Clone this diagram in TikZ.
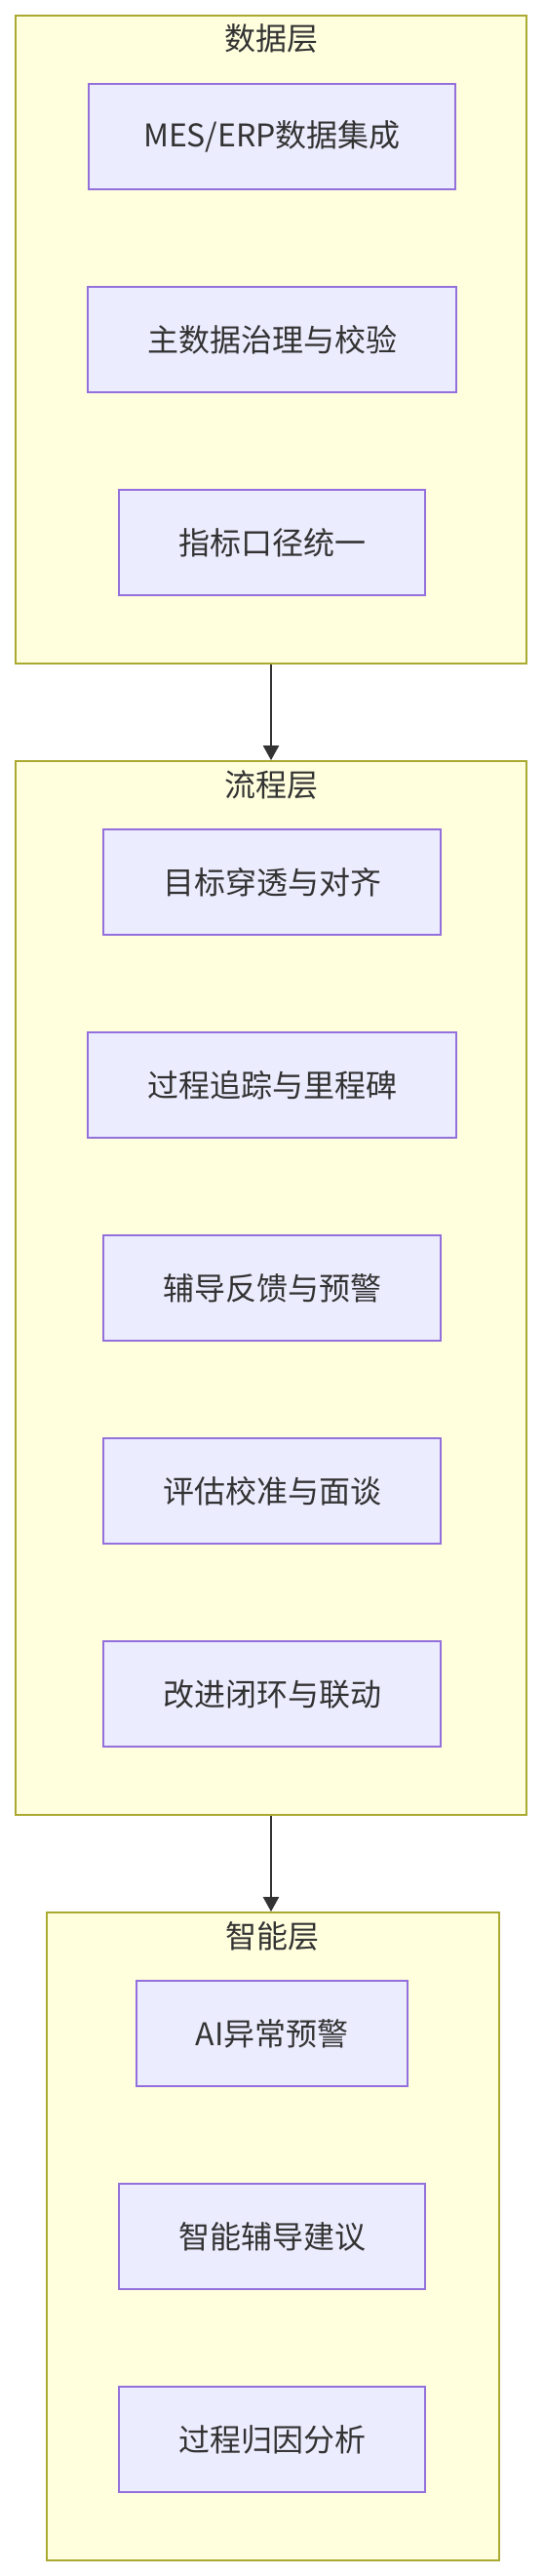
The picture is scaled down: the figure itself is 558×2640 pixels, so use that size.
\documentclass[tikz,border=0pt]{standalone}
\usepackage{fontspec}
\setmainfont{Noto Sans CJK SC}
\usetikzlibrary{arrows.meta}
\definecolor{clfill}{HTML}{FFFFDE}
\definecolor{clline}{HTML}{AAAA33}
\definecolor{ndfill}{HTML}{ECECFF}
\definecolor{ndline}{HTML}{9370DB}
\definecolor{txt}{HTML}{333333}
\tikzset{
  cluster/.style={draw=clline, fill=clfill, line width=1.7pt, inner sep=0pt},
  ctitle/.style={text=txt, font=\fontsize{32}{36}\selectfont, inner sep=0pt, anchor=center},
  box/.style={draw=ndline, fill=ndfill, line width=1.7pt, text=txt,
    font=\fontsize{32}{36}\selectfont, minimum height=108pt, inner sep=0pt},
  conn/.style={draw=txt, line width=2pt, -{Triangle[length=15pt,width=16pt]}}
}
\begin{document}
\begin{tikzpicture}[x=1pt,y=-1pt]
\useasboundingbox (0,0) rectangle (558,2640);
% clusters
\node[cluster, minimum width=524pt, minimum height=664pt] (data) at (278,348) {};
\node[ctitle] (datat) at (278,39) {数据层};
\node[cluster, minimum width=524pt, minimum height=1080pt] (flow) at (278,1320) {};
\node[ctitle] (flowt) at (278,804) {流程层};
\node[cluster, minimum width=464pt, minimum height=664pt] (intel) at (280,2292) {};
\node[ctitle] (intelt) at (279,1984) {智能层};
% data nodes
\node[box, minimum width=376pt] (d1) at (279,140) {MES/ERP数据集成};
\node[box, minimum width=378pt] (d2) at (279,348) {主数据治理与校验};
\node[box, minimum width=314pt] (d3) at (279,556) {指标口径统一};
% flow nodes
\node[box, minimum width=346pt] (f1) at (279,904) {目标穿透与对齐};
\node[box, minimum width=378pt] (f2) at (279,1112) {过程追踪与里程碑};
\node[box, minimum width=346pt] (f3) at (279,1320) {辅导反馈与预警};
\node[box, minimum width=346pt] (f4) at (279,1528) {评估校准与面谈};
\node[box, minimum width=346pt] (f5) at (279,1736) {改进闭环与联动};
% intel nodes
\node[box, minimum width=278pt] (i1) at (279,2084) {AI异常预警};
\node[box, minimum width=314pt] (i2) at (279,2292) {智能辅导建议};
\node[box, minimum width=314pt] (i3) at (279,2500) {过程归因分析};
% connectors
\draw[conn] (data.south) -- (flow.north);
\draw[conn] (flow.south) -- (intel.north -| flow.south);
\end{tikzpicture}
\end{document}
